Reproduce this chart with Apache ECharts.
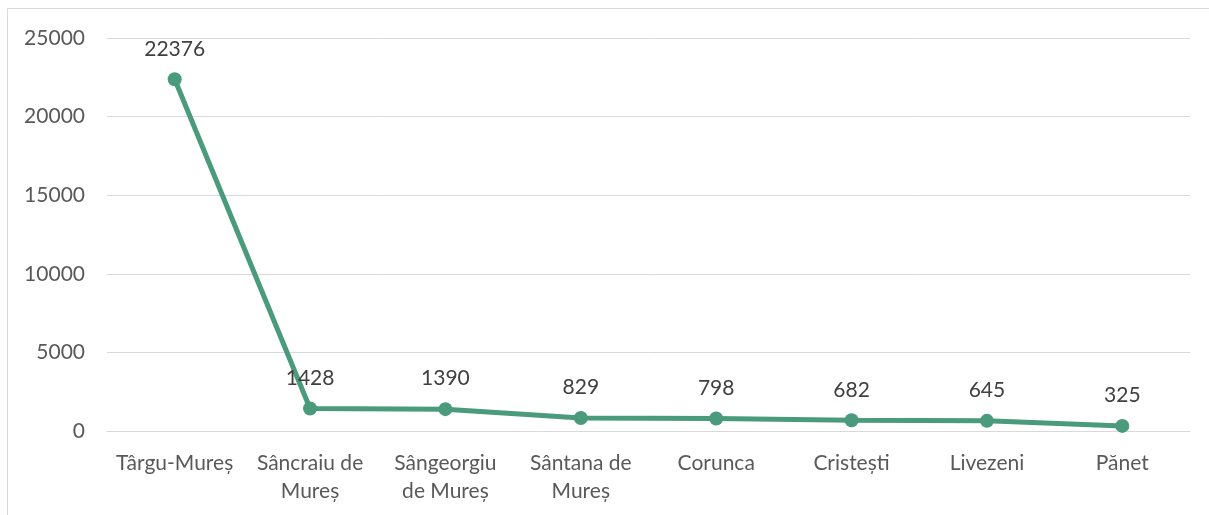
<!DOCTYPE html>
<html><head><meta charset="utf-8">
<script src="https://cdn.jsdelivr.net/npm/echarts@6/dist/echarts.min.js"></script>
<style>html,body{margin:0;padding:0;background:#fff}#c{width:1209px;height:515px}</style>
</head><body><div id="c"></div>
<script>
const categories = ["Târgu-Mureș","Sâncraiu de Mureș","Sângeorgiu de Mureș","Sântana de Mureș","Corunca","Cristești","Livezeni","Pănet"];
const categoryLabels = ["Târgu-Mureș","Sâncraiu de\nMureș","Sângeorgiu\nde Mureș","Sântana de\nMureș","Corunca","Cristești","Livezeni","Pănet"];
const values = [22376,1428,1390,829,798,682,645,325];
const yTicks = [0,5000,10000,15000,20000,25000];

const font = "Lato, 'Open Sans', sans-serif";
const chart = echarts.init(document.getElementById('c'), null, {renderer:'canvas'});
chart.setOption({
  animation:false,
  graphic:[{type:'rect',shape:{x:7.5,y:8.5,width:1220,height:520},style:{fill:'none',stroke:'#d9d9d9',lineWidth:1},silent:true,z:-1}],
  grid:{left:107,right:19,top:38,bottom:84},
  xAxis:{type:'category',data:categories,boundaryGap:true,
    axisLine:{lineStyle:{color:'#d9d9d9',width:1}},axisTick:{show:false},
    axisLabel:{color:'#595959',fontFamily:font,fontSize:21,margin:18,lineHeight:28,interval:0,
      formatter:(v,i)=>categoryLabels[i]}},
  yAxis:{type:'value',min:yTicks[0],max:yTicks[yTicks.length-1],interval:5000,
    axisLine:{show:false},axisTick:{show:false},
    splitLine:{lineStyle:{color:'#d9d9d9',width:1}},
    axisLabel:{color:'#595959',fontFamily:font,fontSize:21,margin:22,formatter:v=>String(v)}},
  series:[{type:'line',data:values,symbol:'circle',symbolSize:14,
    lineStyle:{color:'#4a9a7c',width:5},itemStyle:{color:'#4a9a7c'},
    label:{show:true,position:'top',distance:13,color:'#404040',fontFamily:font,fontSize:21}}]
});
</script></body></html>
